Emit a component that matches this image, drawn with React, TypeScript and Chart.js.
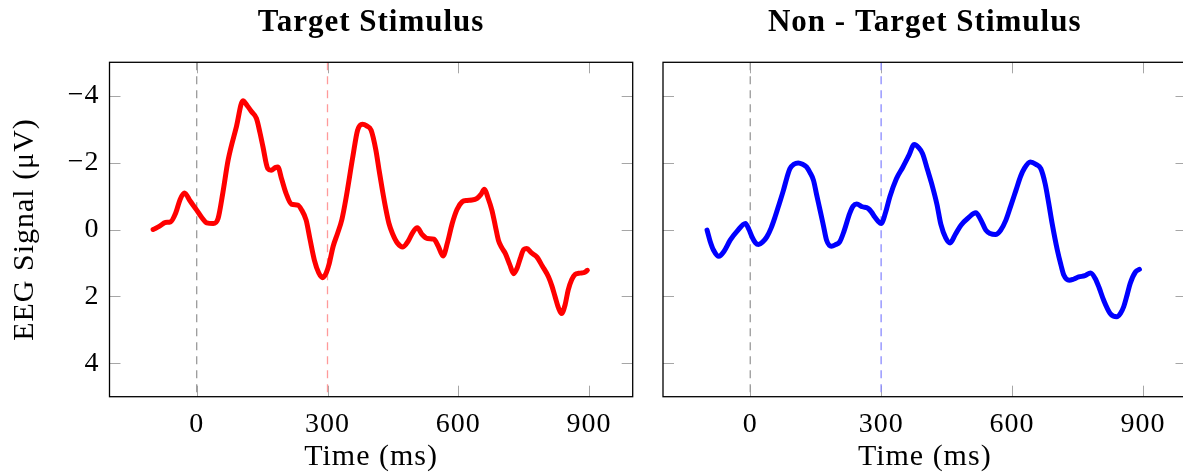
import React, { useEffect, useRef } from "react";
import { Chart, registerables } from "chart.js";

Chart.register(...registerables);

// ---- Data ----
const xTicks = [0, 300, 600, 900];
const yTicks = [-4, -2, 0, 2, 4];
const markerTimes = [0, 300];

const targetTime = [
  -100, -85, -72, -60, -48, -38, -28, -15, 0, 12, 23, 38, 49, 60, 72, 91, 106, 116, 126, 137,
  145, 152, 163, 171, 180, 186, 195, 205, 217, 232, 240, 251, 260, 270, 280, 289, 297, 304,
  313, 323, 333, 342, 358, 369, 380, 390, 400, 411, 418, 426, 434, 441, 449, 460, 473, 485,
  495, 506, 517, 529, 544, 554, 565, 575, 586, 597, 609, 620, 631, 643, 652, 660, 668, 677,
  685, 692, 700, 708, 718, 727, 735, 742, 750, 757, 768, 780, 793, 807, 815, 822, 830, 837,
  845, 852, 860, 868, 876, 883, 890, 896,
];
const targetSignal = [
  0.0, -0.1, -0.21, -0.23, -0.5, -0.9, -1.09, -0.85, -0.58, -0.35, -0.2, -0.18, -0.33, -1.1,
  -2.07, -3.07, -3.85, -3.7, -3.52, -3.32, -2.9, -2.47, -1.82, -1.77, -1.85, -1.87, -1.5,
  -1.08, -0.76, -0.73, -0.6, -0.28, 0.3, 0.92, 1.3, 1.44, 1.3, 1.02, 0.5, 0.12, -0.3, -0.9,
  -2.17, -2.97, -3.15, -3.1, -2.97, -2.37, -1.8, -1.17, -0.6, -0.18, 0.12, 0.4, 0.52, 0.35,
  0.1, -0.05, 0.15, 0.27, 0.29, 0.5, 0.79, 0.4, -0.18, -0.6, -0.83, -0.87, -0.88, -0.93,
  -1.05, -1.2, -0.95, -0.58, -0.1, 0.32, 0.55, 0.72, 1.05, 1.32, 1.15, 0.87, 0.6, 0.57, 0.7,
  0.82, 1.1, 1.42, 1.7, 2.01, 2.35, 2.51, 2.25, 1.81, 1.5, 1.34, 1.31, 1.3, 1.28, 1.22,
];

const nonTargetTime = [
  -99, -92, -84, -72, -60, -46, -30, -11, -3, 4, 12, 19, 28, 38, 48, 57, 66, 76, 84, 91, 100,
  110, 120, 129, 137, 145, 152, 160, 168, 175, 186, 196, 205, 215, 228, 236, 244, 257, 270,
  278, 285, 293, 300, 310, 320, 335, 350, 363, 376, 386, 395, 406, 418, 428, 437, 448, 458,
  470, 483, 500, 517, 528, 540, 550, 562, 574, 586, 597, 609, 620, 628, 642, 655, 666, 676,
  684, 692, 704, 712, 719, 731, 742, 753, 767, 780, 791, 800, 810, 825, 840, 849, 856, 864,
  871, 883, 892,
];
const nonTargetSignal = [
  0.02, 0.35, 0.62, 0.8, 0.65, 0.32, 0.05, -0.18, 0.0, 0.22, 0.4, 0.45, 0.38, 0.22, -0.05,
  -0.38, -0.75, -1.17, -1.55, -1.82, -1.95, -1.99, -1.95, -1.87, -1.7, -1.47, -1.05, -0.58,
  -0.1, 0.32, 0.5, 0.45, 0.37, 0.05, -0.48, -0.7, -0.76, -0.68, -0.63, -0.52, -0.38, -0.25,
  -0.18, -0.5, -0.98, -1.52, -1.87, -2.2, -2.54, -2.45, -2.27, -1.8, -1.27, -0.75, -0.15,
  0.25, 0.4, 0.15, -0.13, -0.35, -0.5, -0.3, 0.02, 0.12, 0.15, 0.02, -0.28, -0.7, -1.17,
  -1.6, -1.82, -2.02, -1.95, -1.82, -1.37, -0.8, -0.18, 0.62, 1.05, 1.37, 1.52, 1.48, 1.42,
  1.38, 1.3, 1.47, 1.75, 2.11, 2.51, 2.61, 2.5, 2.31, 1.95, 1.61, 1.27, 1.19,
];

const FONT = "'Liberation Serif', 'DejaVu Serif', serif";

const fmtY = (v: number) => (v < 0 ? "\u2212" + Math.abs(v) : String(v));

const frameTicksPlugin = {
  id: "frameTicks",
  beforeDraw(chart: any) {
    try {
      (chart.ctx as any).letterSpacing = "1px";
    } catch (e) {}
  },
  beforeDatasetsDraw(chart: any) {
    const { ctx, chartArea, scales } = chart;
    const { left, right, top, bottom } = chartArea;
    const L = 11;
    ctx.save();
    ctx.strokeStyle = "#a6a6a6";
    ctx.lineWidth = 1;
    ctx.beginPath();
    scales.x.ticks.forEach((t: any) => {
      const p = Math.round(scales.x.getPixelForValue(t.value)) + 0.5;
      ctx.moveTo(p, top);
      ctx.lineTo(p, top + L);
      ctx.moveTo(p, bottom);
      ctx.lineTo(p, bottom - L);
    });
    scales.y.ticks.forEach((t: any) => {
      const p = Math.round(scales.y.getPixelForValue(t.value)) + 0.5;
      ctx.moveTo(left, p);
      ctx.lineTo(left + L, p);
      ctx.moveTo(right, p);
      ctx.lineTo(right - L, p);
    });
    ctx.stroke();
    ctx.restore();
  },
  afterDatasetsDraw(chart: any) {
    const { ctx, chartArea } = chart;
    const { left, right, top, bottom } = chartArea;
    ctx.save();
    ctx.strokeStyle = "#000";
    ctx.lineWidth = 1.3;
    ctx.strokeRect(left, top, right - left, bottom - top);
    ctx.restore();
  },
};

function makeConfig(opts: {
  title: string;
  times: number[];
  values: number[];
  color: string;
  markerColor: string;
  showY: boolean;
  yWidth: number;
  padRight: number;
}) {
  const signal = opts.times.map((t, i) => ({ x: t, y: opts.values[i] }));
  const markers = markerTimes.map((t, i) => ({
    data: [
      { x: t, y: -5 },
      { x: t, y: 5 },
    ],
    borderColor: i === 0 ? "#9a9a9a" : opts.markerColor,
    borderWidth: 1.3,
    borderDash: [8, 6],
    pointRadius: 0,
    tension: 0,
  }));
  return {
    type: "line",
    data: {
      datasets: [
        {
          data: signal,
          borderColor: opts.color,
          borderWidth: 5,
          pointRadius: 0,
          tension: 0.4,
          cubicInterpolationMode: "monotone",
          borderCapStyle: "round",
          borderJoinStyle: "round",
        },
        ...markers,
      ],
    },
    options: {
      responsive: false,
      animation: false,
      layout: { padding: { left: 0, right: opts.padRight, top: 0, bottom: 0 } },
      plugins: {
        legend: { display: false },
        tooltip: { enabled: false },
        title: {
          display: true,
          text: opts.title,
          fullSize: false,
          color: "#000",
          font: { family: FONT, size: 31, weight: "bold", lineHeight: 1.2 },
          padding: { top: 3.9, bottom: 21.2 },
        },
      },
      scales: {
        x: {
          type: "linear",
          min: -200,
          max: 1000,
          afterBuildTicks: (s: any) => {
            s.ticks = xTicks.map((v) => ({ value: v }));
          },
          afterFit: (s: any) => {
            s.height = 472 - 396.7;
          },
          grid: { display: false, drawTicks: false },
          border: { display: false },
          ticks: {
            color: "#000",
            padding: 11,
            maxRotation: 0,
            font: { family: FONT, size: 28, lineHeight: 1.2 },
          },
          title: {
            display: true,
            text: "Time (ms)",
            color: "#000",
            font: { family: FONT, size: 30, lineHeight: 1 },
            padding: { top: 0, bottom: 0 },
          },
        },
        y: {
          type: "linear",
          min: -5,
          max: 5,
          reverse: true,
          afterBuildTicks: (s: any) => {
            s.ticks = yTicks.map((v) => ({ value: v }));
          },
          afterFit: (s: any) => {
            s.width = opts.yWidth;
          },
          grid: { display: false, drawTicks: false },
          border: { display: false },
          ticks: {
            display: opts.showY,
            color: "#000",
            padding: 10,
            font: { family: FONT, size: 28, lineHeight: 1.2 },
            callback: (v: any) => fmtY(Number(v)),
          },
          title: {
            display: opts.showY,
            text: "EEG Signal (\u03bcV)",
            color: "#000",
            font: { family: FONT, size: 30, lineHeight: 1 },
            padding: { top: 10, bottom: 0 },
          },
        },
      },
    },
    plugins: [frameTicksPlugin],
  };
}

function Panel(props: { left: number; width: number; config: any }) {
  const ref = useRef<HTMLCanvasElement | null>(null);
  useEffect(() => {
    const chart = new Chart(ref.current as HTMLCanvasElement, props.config);
    return () => chart.destroy();
  }, []);
  return (
    <canvas
      ref={ref}
      width={props.width}
      height={472}
      style={{ position: "absolute", left: props.left, top: 0, width: props.width, height: 472 }}
    />
  );
}

export default function App() {
  const leftCfg = makeConfig({
    title: "Target Stimulus",
    times: targetTime,
    values: targetSignal,
    color: "#ff0000",
    markerColor: "#ff9a9a",
    showY: true,
    yWidth: 109.5,
    padRight: 650 - 632.7,
  });
  const rightCfg = makeConfig({
    title: "Non - Target Stimulus",
    times: nonTargetTime,
    values: nonTargetSignal,
    color: "#0000ff",
    markerColor: "#8a8aff",
    showY: false,
    yWidth: 13,
    padRight: 560 - 536.5,
  });
  return (
    <div
      style={{
        position: "fixed",
        left: 0,
        top: 0,
        width: 1183,
        height: 472,
        overflow: "hidden",
        background: "#fff",
      }}
    >
      <Panel left={0} width={650} config={leftCfg} />
      <Panel left={650} width={560} config={rightCfg} />
    </div>
  );
}
